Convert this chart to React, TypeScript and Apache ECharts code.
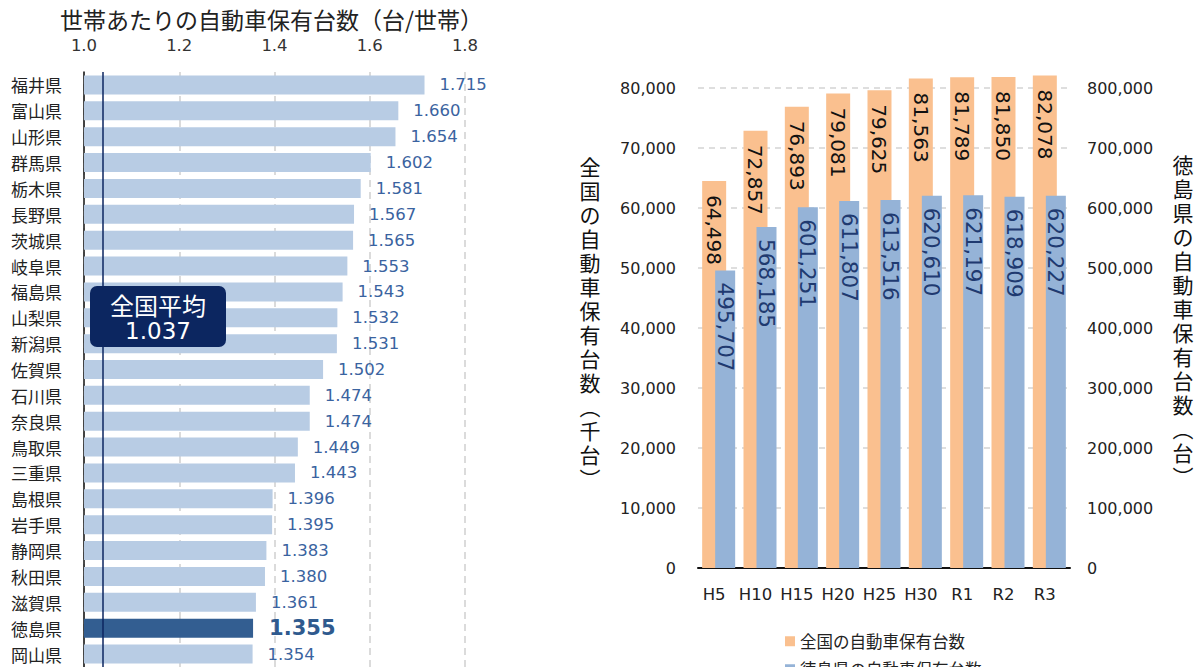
import React, { useEffect, useRef } from 'react';
import * as echarts from 'echarts';

// ---- Left chart data: vehicles per household ----
const prefectures = [
  '福井県', '富山県', '山形県', '群馬県', '栃木県', '長野県', '茨城県', '岐阜県',
  '福島県', '山梨県', '新潟県', '佐賀県', '石川県', '奈良県', '鳥取県', '三重県',
  '島根県', '岩手県', '静岡県', '秋田県', '滋賀県', '徳島県', '岡山県',
];
const householdRatio = [
  1.715, 1.66, 1.654, 1.602, 1.581, 1.567, 1.565, 1.553,
  1.543, 1.532, 1.531, 1.502, 1.474, 1.474, 1.449, 1.443,
  1.396, 1.395, 1.383, 1.38, 1.361, 1.355, 1.354,
];
const nationalAverage = 1.037;
const highlightPrefecture = '徳島県';
const leftTitle = '世帯あたりの自動車保有台数（台/世帯）';
const averageLabel = '全国平均';

// ---- Right chart data: vehicle counts by year ----
const years = ['H5', 'H10', 'H15', 'H20', 'H25', 'H30', 'R1', 'R2', 'R3'];
const nationalVehicles = [64498, 72857, 76893, 79081, 79625, 81563, 81789, 81850, 82078]; // 千台
const tokushimaVehicles = [495707, 568185, 601251, 611807, 613516, 620610, 621197, 618909, 620227]; // 台
const nationalName = '全国の自動車保有台数';
const tokushimaName = '徳島県の自動車保有台数';
const leftAxisName = ['全', '国', 'の', '自', '動', '車', '保', '有', '台', '数', '︵', '千', '台', '︶'];
const rightAxisName = ['徳', '島', '県', 'の', '自', '動', '車', '保', '有', '台', '数', '︵', '台', '︶'];

const FONT = '"DejaVu Sans", "Noto Sans CJK JP", sans-serif';
const JP = '"Noto Sans CJK JP", "DejaVu Sans", sans-serif';
const fmt = (v: number) => v.toLocaleString('en-US');

const verticalName = (chars: string[], x: number, y0: number) =>
  chars.map((c, i) => ({
    type: 'text',
    x,
    y: y0 + i * 24,
    style: {
      text: c,
      fontSize: 21,
      align: 'center',
      verticalAlign: 'top',
      fill: '#111',
      fontFamily: JP,
    },
  }));

export default function App() {
  const ref = useRef<HTMLDivElement>(null);

  useEffect(() => {
    if (!ref.current) return;
    const chart = echarts.init(ref.current, null, { renderer: 'svg' });

    const leftData = householdRatio.map((v, i) =>
      prefectures[i] === highlightPrefecture
        ? {
            value: v,
            itemStyle: { color: '#335e91' },
            label: { fontSize: 21, fontWeight: 'bold', color: '#2f5a8e', distance: 16 },
          }
        : v
    );

    const legendCommon = {
      orient: 'horizontal',
      left: 780,
      itemWidth: 10,
      itemHeight: 10,
      icon: 'rect',
      textStyle: { fontSize: 16.5, color: '#222', fontFamily: JP },
    };

    const option: any = {
      animation: false,
      backgroundColor: '#ffffff',
      textStyle: { fontFamily: FONT },
      legend: [
        { ...legendCommon, data: [nationalName], top: 628 },
        { ...legendCommon, data: [tokushimaName], top: 656 },
      ],
      grid: [
        { left: 84, right: 1197 - 465, top: 72, bottom: -3 },
        { left: 698, right: 127, top: 88, bottom: 99 },
      ],
      xAxis: [
        {
          gridIndex: 0,
          type: 'value',
          position: 'top',
          min: 1.0,
          max: 1.8,
          interval: 0.2,
          axisLine: { show: false },
          axisTick: { show: false },
          axisLabel: {
            margin: 18,
            fontSize: 16.5,
            color: '#333',
            fontFamily: FONT,
            formatter: (v: number) => v.toFixed(1),
          },
          splitLine: { lineStyle: { type: [7, 5], color: '#cfcfcf', width: 1.5 } },
        },
        {
          gridIndex: 1,
          type: 'category',
          data: years,
          axisLine: { lineStyle: { color: '#111', width: 2 } },
          axisTick: { show: false },
          axisLabel: {
            interval: 0,
            margin: 18,
            fontSize: 16.5,
            color: '#222',
            fontFamily: FONT,
            padding: [0, 9, 0, 0],
          },
        },
      ],
      yAxis: [
        {
          gridIndex: 0,
          type: 'category',
          inverse: true,
          data: prefectures,
          axisLine: { onZero: false, lineStyle: { color: '#111', width: 1.5 } },
          axisTick: { show: false },
          axisLabel: { margin: 22, fontSize: 17, color: '#222', fontFamily: JP },
        },
        {
          gridIndex: 1,
          type: 'value',
          min: 0,
          max: 80000,
          interval: 10000,
          axisLine: { show: false },
          axisTick: { show: false },
          axisLabel: { margin: 22, fontSize: 16, color: '#222', fontFamily: FONT, formatter: fmt },
          splitLine: { lineStyle: { type: [6, 5], color: '#d4d4d4', width: 1.5 } },
        },
        {
          gridIndex: 1,
          type: 'value',
          position: 'right',
          min: 0,
          max: 800000,
          interval: 100000,
          axisLine: { show: false },
          axisTick: { show: false },
          axisLabel: { margin: 17, fontSize: 16, color: '#222', fontFamily: FONT, formatter: fmt },
          splitLine: { show: false },
        },
      ],
      series: [
        {
          type: 'bar',
          xAxisIndex: 0,
          yAxisIndex: 0,
          data: leftData,
          barWidth: 19,
          itemStyle: { color: '#b8cce4' },
          label: {
            show: true,
            position: 'right',
            distance: 15,
            fontSize: 16.5,
            color: '#3a63a0',
            fontFamily: FONT,
            formatter: (p: any) => Number(p.value).toFixed(3),
          },
          markLine: {
            silent: true,
            symbol: ['none', 'none'],
            label: { show: false },
            lineStyle: { color: '#0c2660', width: 1.5, type: 'solid' },
            data: [{ xAxis: nationalAverage }],
          },
        },
        {
          name: nationalName,
          type: 'bar',
          xAxisIndex: 1,
          yAxisIndex: 1,
          data: nationalVehicles,
          barWidth: 24,
          barGap: '-45.8%',
          clip: false,
          itemStyle: { color: '#fac08f' },
          label: {
            show: true,
            position: 'insideTop',
            distance: 14,
            rotate: -90,
            align: 'left',
            verticalAlign: 'middle',
            fontSize: 20,
            color: '#111',
            fontFamily: FONT,
            formatter: (p: any) => fmt(p.value),
          },
        },
        {
          name: tokushimaName,
          type: 'bar',
          xAxisIndex: 1,
          yAxisIndex: 2,
          data: tokushimaVehicles,
          barWidth: 20,
          barGap: '-45.8%',
          clip: false,
          itemStyle: { color: '#95b3d7' },
          label: {
            show: true,
            position: 'insideTop',
            distance: 12,
            rotate: -90,
            align: 'left',
            verticalAlign: 'middle',
            fontSize: 21.5,
            color: '#1f3a70',
            fontFamily: FONT,
            formatter: (p: any) => fmt(p.value),
          },
        },
      ],
      graphic: [
        {
          type: 'text',
          left: 60,
          top: 7,
          style: { text: leftTitle, fontSize: 23, fill: '#222', fontFamily: JP },
        },
        {
          type: 'rect',
          z: 100,
          shape: { x: 90, y: 286, width: 136, height: 61, r: 7 },
          style: { fill: '#0c2660' },
        },
        {
          type: 'text',
          z: 101,
          x: 158,
          y: 304,
          style: {
            text: averageLabel,
            fontSize: 24,
            align: 'center',
            verticalAlign: 'middle',
            fill: '#ffffff',
            fontFamily: JP,
          },
        },
        {
          type: 'text',
          z: 101,
          x: 158,
          y: 331,
          style: {
            text: nationalAverage.toFixed(3),
            fontSize: 23,
            align: 'center',
            verticalAlign: 'middle',
            fill: '#ffffff',
            fontFamily: FONT,
          },
        },
        ...verticalName(leftAxisName, 590, 155),
        ...verticalName(rightAxisName, 1183, 153),
      ],
    };

    chart.setOption(option);
    return () => chart.dispose();
  }, []);

  return (
    <div
      ref={ref}
      style={{ position: 'fixed', left: 0, top: 0, width: 1197, height: 667 }}
    />
  );
}
